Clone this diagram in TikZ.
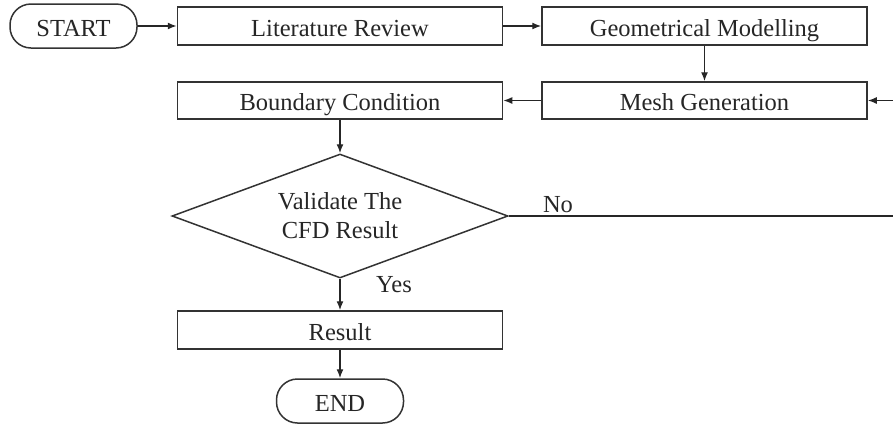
\documentclass[tikz,border=0pt]{standalone}
\usepackage{fontspec}
\setmainfont{Liberation Serif}
\usetikzlibrary{shapes.geometric,arrows.meta}
\begin{document}
\begin{tikzpicture}[x=1pt,y=-1pt,
  every node/.style={font=\fontsize{24.5}{29}\selectfont, text=black!85},
  box/.style={draw=black!80, line width=1.5pt, minimum width=325pt, minimum height=38pt, inner sep=0pt, text height=20pt, text depth=0pt},
  term/.style={draw=black!80, line width=1.5pt, rounded corners=21pt, minimum width=127pt, minimum height=44pt, inner sep=0pt, text height=20pt, text depth=0pt},
  dec/.style={draw=black!80, line width=1.5pt, diamond, aspect=2.7, minimum width=336pt, minimum height=124pt, inner sep=0pt, align=center},
  conn/.style={draw=black!85, line width=1.4pt, -{Latex[length=9pt,width=7pt]}},
  lbl/.style={inner sep=0pt}
]
\useasboundingbox (0,0) rectangle (893,424);
\node[term] (start) at (73.5,26) {START};
\node[box] (lit) at (340,26) {Literature Review};
\node[box] (geo) at (704.5,26) {Geometrical Modelling};
\node[box, minimum height=37pt] (mesh) at (704.5,100.5) {Mesh Generation};
\node[box, minimum height=37pt] (bc) at (340,100.5) {Boundary Condition};
\node[dec] (dia) at (340,216) {Validate The\\CFD Result};
\node[box] (res) at (340,330) {Result};
\node[term] (end) at (340,401) {END};
\coordinate (nc1) at (894,216);
\coordinate (nc2) at (894,100.5);
\draw[conn] (start) -- (lit);
\draw[conn] (lit) -- (geo);
\draw[conn] (geo) -- (mesh);
\draw[conn] (mesh) -- (bc);
\draw[conn] (bc) -- (dia);
\draw[conn] (dia) -- (res);
\draw[conn] (res) -- (end);
\draw[conn] (dia.east) -- (nc1) -- (nc2) -- (mesh.east);
\node[lbl] (no) at (558,205) {No};
\node[lbl] (yes) at (394,285) {Yes};
\end{tikzpicture}
\end{document}
